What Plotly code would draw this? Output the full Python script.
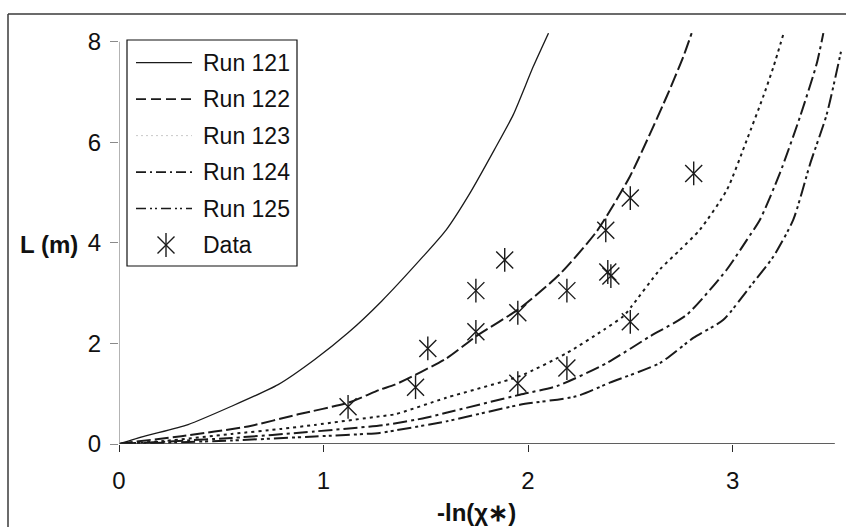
import plotly.graph_objects as go

# ---- data -------------------------------------------------------------
run121_x = [0, 0.126, 0.338, 0.55, 0.778, 0.957, 1.12, 1.284, 1.487, 1.60, 1.716, 1.835, 1.928, 2.025, 2.10]
run121_y = [0, 0.155, 0.387, 0.75, 1.18, 1.68, 2.21, 2.84, 3.73, 4.26, 4.99, 5.85, 6.55, 7.50, 8.17]

run122_x = [0, 0.028, 0.305, 0.631, 0.876, 1.12, 1.276, 1.349, 1.60, 1.749, 1.96, 2.156, 2.336, 2.498, 2.678, 2.759, 2.80]
run122_y = [0, 0.02, 0.155, 0.35, 0.59, 0.82, 1.08, 1.18, 1.70, 2.15, 2.70, 3.38, 4.23, 5.32, 6.91, 7.70, 8.17]

run123_x = [0, 0.22, 0.55, 0.794, 0.957, 1.275, 1.349, 1.60, 1.96, 2.19, 2.37, 2.466, 2.507, 2.645, 2.743, 2.84, 2.972, 3.07, 3.15, 3.20, 3.25]
run123_y = [0, 0.06, 0.20, 0.30, 0.38, 0.55, 0.59, 0.92, 1.35, 1.81, 2.27, 2.54, 2.74, 3.47, 3.86, 4.26, 5.05, 6.05, 6.91, 7.50, 8.17]

run124_x = [0, 0.55, 0.957, 1.30, 1.50, 1.60, 1.96, 2.14, 2.385, 2.596, 2.776, 2.972, 3.07, 3.134, 3.232, 3.33, 3.412, 3.444]
run124_y = [0, 0.12, 0.25, 0.38, 0.52, 0.62, 0.98, 1.15, 1.61, 2.14, 2.57, 3.47, 4.06, 4.46, 5.39, 6.51, 7.57, 8.17]

run125_x = [0, 0.55, 0.957, 1.275, 1.35, 1.60, 1.96, 2.238, 2.40, 2.645, 2.808, 2.955, 3.086, 3.20, 3.297, 3.38, 3.46, 3.53]
run125_y = [0, 0.07, 0.15, 0.22, 0.27, 0.45, 0.78, 0.95, 1.22, 1.61, 2.11, 2.47, 3.13, 3.73, 4.46, 5.58, 6.55, 7.80]

data_x = [1.12, 1.45, 1.51, 1.745, 1.745, 1.886, 1.95, 1.95, 2.19, 2.19, 2.38, 2.39, 2.405, 2.50, 2.50, 2.81]
data_y = [0.74, 1.13, 1.90, 2.23, 3.05, 3.66, 2.61, 1.21, 3.05, 1.51, 4.25, 3.42, 3.34, 4.89, 2.43, 5.38]

run_names = ["Run 121", "Run 122", "Run 123", "Run 124", "Run 125"]
data_name = "Data"

x_ticks = [0, 1, 2, 3]
y_ticks = [0, 2, 4, 6, 8]
x_title = "-ln(χ∗)"
y_title = "L (m)"

# ---- geometry ---------------------------------------------------------
W, H = 846, 527
ML, MR, MT, MB = 119, 3, 33, 83
PW, PH = W - ML - MR, H - MT - MB
X_MAX = 3.54
Y_MAX = 8.173

def px_x(px):
    return (px - ML) / PW

def px_y(py):
    return (H - MB - py) / PH

FONT = "Liberation Sans, Arial, sans-serif"
INK = "#1a1a1a"

curve_styles = [
    dict(dash="solid", width=1.3),
    dict(dash="14px,4px", width=2.0),
    dict(dash="3px,4px", width=2.0),
    dict(dash="14px,4px,3px,4px", width=2.0),
    dict(dash="14px,4px,3px,3px,3px,4px", width=2.0),
]
curves = [
    (run121_x, run121_y),
    (run122_x, run122_y),
    (run123_x, run123_y),
    (run124_x, run124_y),
    (run125_x, run125_y),
]

fig = go.Figure()

for (cx, cy), st, name in zip(curves, curve_styles, run_names):
    fig.add_trace(go.Scatter(
        x=cx, y=cy, mode="lines", name=name, showlegend=False,
        line=dict(color=INK, width=st["width"], dash=st["dash"],
                  shape="spline", smoothing=0.6),
        hoverinfo="skip",
    ))

# star markers: an X with a vertical stroke through it
star_common = dict(color=INK, size=17, line=dict(color=INK, width=1.4))
fig.add_trace(go.Scatter(x=data_x, y=data_y, mode="markers", name=data_name,
                         showlegend=False,
                         marker=dict(symbol="x-thin-open", **star_common)))
fig.add_trace(go.Scatter(x=data_x, y=data_y, mode="markers", name=data_name,
                         showlegend=False,
                         marker=dict(symbol="line-ns-open", **star_common)))

# ---- hand-drawn legend -------------------------------------------------
LEG_L, LEG_T, LEG_R, LEG_B = 127, 40, 297, 266
ROW0, ROW_STEP = 62.7, 36.46
SAMPLE_L, SAMPLE_R, TEXT_L = 136, 192, 201

shapes = []
annotations = []

shapes.append(dict(type="rect", xref="paper", yref="paper",
                   x0=px_x(LEG_L), x1=px_x(LEG_R), y0=px_y(LEG_B), y1=px_y(LEG_T),
                   line=dict(color="#111111", width=1.2), fillcolor="white", layer="below"))

legend_lines = [
    dict(dash="solid", width=1.3, color=INK),
    dict(dash="10px,5px", width=1.6, color=INK),
    dict(dash="2px,3px", width=1.0, color="#c8c8c8"),
    dict(dash="10px,4px,2px,4px", width=1.6, color=INK),
    dict(dash="10px,4px,2px,3px,2px,4px", width=1.6, color=INK),
]
for i, (name, st) in enumerate(zip(run_names, legend_lines)):
    row_y = ROW0 + i * ROW_STEP
    shapes.append(dict(type="line", xref="paper", yref="paper",
                       x0=px_x(SAMPLE_L), x1=px_x(SAMPLE_R),
                       y0=px_y(row_y), y1=px_y(row_y),
                       line=dict(color=st["color"], width=st["width"], dash=st["dash"]),
                       layer="above"))
    annotations.append(dict(xref="paper", yref="paper", x=px_x(TEXT_L), y=px_y(row_y),
                            xanchor="left", yanchor="middle", showarrow=False,
                            text=name, font=dict(family=FONT, size=23, color="#111111")))

data_row = ROW0 + 5 * ROW_STEP
annotations.append(dict(xref="paper", yref="paper", x=px_x(TEXT_L), y=px_y(data_row),
                        xanchor="left", yanchor="middle", showarrow=False,
                        text=data_name, font=dict(family=FONT, size=23, color="#111111")))

# legend star sits on an overlay axis pair spanning the plot area in [0, 1]
fig.add_trace(go.Scatter(x=[px_x(166)], y=[px_y(data_row)], mode="markers",
                         xaxis="x2", yaxis="y2", showlegend=False, hoverinfo="skip",
                         marker=dict(symbol="x-thin-open", **star_common)))
fig.add_trace(go.Scatter(x=[px_x(166)], y=[px_y(data_row)], mode="markers",
                         xaxis="x2", yaxis="y2", showlegend=False, hoverinfo="skip",
                         marker=dict(symbol="line-ns-open", **star_common)))

# ---- axis lines and outer frame -----------------------------------------
shapes.append(dict(type="line", xref="x", yref="y", x0=0, x1=3.5, y0=0, y1=0,
                   line=dict(color="#2a2a2a", width=1.3)))
shapes.append(dict(type="line", xref="x", yref="y", x0=0, x1=0, y0=0, y1=8,
                   line=dict(color="#8a8a8a", width=1.3)))
# frame: top and left edges
shapes.append(dict(type="line", xref="paper", yref="paper",
                   x0=px_x(8), x1=px_x(W + 2), y0=px_y(14), y1=px_y(14),
                   line=dict(color="#3a3a3a", width=1.5)))
shapes.append(dict(type="line", xref="paper", yref="paper",
                   x0=px_x(8), x1=px_x(8), y0=px_y(14), y1=px_y(H + 2),
                   line=dict(color="#3a3a3a", width=1.5)))

# axis titles
annotations.append(dict(xref="paper", yref="y", x=px_x(18), y=4, yshift=-2,
                        xanchor="left", yanchor="middle", showarrow=False,
                        text="<b>" + y_title + "</b>",
                        font=dict(family=FONT, size=24, color="#111111")))
annotations.append(dict(xref="x", yref="paper", x=1.75, y=px_y(512),
                        xanchor="center", yanchor="middle", showarrow=False,
                        text="<b>" + x_title + "</b>",
                        font=dict(family=FONT, size=24, color="#111111")))

fig.update_layout(
    width=W, height=H,
    margin=dict(l=ML, r=MR, t=MT, b=MB, pad=0),
    paper_bgcolor="white", plot_bgcolor="white",
    showlegend=False,
    font=dict(family=FONT, size=24, color="#111111"),
    xaxis=dict(range=[0, X_MAX], tickvals=x_ticks, ticktext=[str(v) for v in x_ticks],
               showgrid=False, zeroline=False, showline=False,
               ticks="outside", ticklen=7, tickwidth=1.3, tickcolor="#2a2a2a",
               ticklabelstandoff=8, tickfont=dict(size=24, color="#111111")),
    yaxis=dict(range=[0, Y_MAX], tickvals=y_ticks, ticktext=[str(v) for v in y_ticks],
               showgrid=False, zeroline=False, showline=False,
               ticks="outside", ticklen=8, tickwidth=1.3, tickcolor="#8a8a8a",
               ticklabelstandoff=4, tickfont=dict(size=24, color="#111111")),
    xaxis2=dict(overlaying="x", range=[0, 1], visible=False),
    yaxis2=dict(overlaying="y", range=[0, 1], visible=False),
    shapes=shapes,
    annotations=annotations,
)

fig.write_html("out.html")
